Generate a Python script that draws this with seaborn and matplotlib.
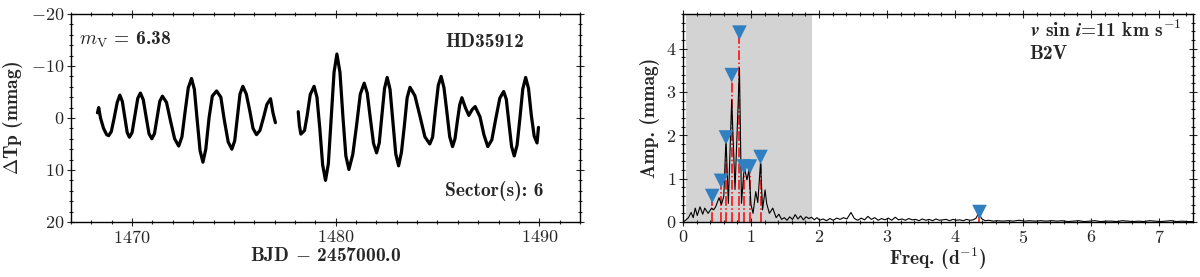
import matplotlib
matplotlib.use("Agg")
import matplotlib.pyplot as plt
import seaborn as sns
from matplotlib.ticker import MultipleLocator

# ---------------------------
# light curve: two TESS orbits
# ---------------------------
t_seg1 = [1468.30, 1468.36, 1468.45, 1468.60, 1468.75, 1468.85, 1468.98, 1469.12,
          1469.27, 1469.40, 1469.52, 1469.64, 1469.76, 1469.87, 1470.00, 1470.14,
          1470.28, 1470.41, 1470.55, 1470.69, 1470.83, 1470.97, 1471.10, 1471.23,
          1471.36, 1471.49, 1471.69, 1471.89, 1472.09, 1472.29, 1472.45, 1472.60,
          1472.76, 1472.92, 1473.06, 1473.20, 1473.34, 1473.48, 1473.62, 1473.78,
          1473.94, 1474.15, 1474.36, 1474.53, 1474.72, 1474.90, 1475.04, 1475.17,
          1475.30, 1475.44, 1475.61, 1475.78, 1475.94, 1476.11, 1476.28, 1476.45,
          1476.62, 1476.80, 1476.92, 1477.04]
dmag_seg1 = [-1.0, -2.0, 0.0, 2.0, 3.2, 3.4, 2.6, 0.0,
             -3.0, -4.4, -3.2, -0.2, 2.8, 3.7, 2.8, -0.5,
             -3.8, -4.8, -3.5, -0.2, 3.0, 4.0, 3.0, -0.1,
             -3.2, -4.2, -3.0, 0.6, 4.0, 5.4, 3.6, -1.1,
             -5.8, -7.6, -5.5, 0.5, 6.3, 8.5, 6.0, 0.0,
             -4.2, -5.2, -4.0, 0.4, 4.6, 6.0, 4.4, -0.1,
             -4.6, -6.1, -4.6, -1.4, 2.0, 3.2, 2.4, 0.0,
             -2.6, -3.7, -1.0, 0.9]

t_seg2 = [1478.16, 1478.22, 1478.29, 1478.47, 1478.60, 1478.75, 1478.94, 1479.08,
          1479.22, 1479.36, 1479.50, 1479.64, 1479.78, 1479.92, 1480.06, 1480.21,
          1480.36, 1480.50, 1480.65, 1480.84, 1481.02, 1481.21, 1481.40, 1481.55,
          1481.70, 1481.86, 1482.01, 1482.14, 1482.27, 1482.40, 1482.53, 1482.67,
          1482.81, 1482.95, 1483.09, 1483.23, 1483.37, 1483.51, 1483.65, 1483.89,
          1484.13, 1484.38, 1484.62, 1484.76, 1484.90, 1485.04, 1485.18, 1485.32,
          1485.46, 1485.60, 1485.74, 1485.86, 1485.97, 1486.09, 1486.20, 1486.37,
          1486.54, 1486.70, 1486.85, 1486.97, 1487.09, 1487.28, 1487.47, 1487.67,
          1487.86, 1488.06, 1488.25, 1488.38, 1488.51, 1488.64, 1488.77, 1488.91,
          1489.05, 1489.19, 1489.33, 1489.47, 1489.61, 1489.75, 1489.89, 1489.96]
dmag_seg2 = [-1.2, 1.5, 3.1, 2.4, -0.5, -4.5, -6.1, -4.0,
             2.0, 9.0, 12.0, 8.8, 0.0, -8.8, -12.3, -8.8,
             0.0, 7.3, 9.9, 7.0, 1.6, -4.6, -6.7, -4.8,
             0.0, 4.9, 6.7, 4.8, -0.5, -5.7, -7.8, -5.5,
             0.7, 6.9, 9.2, 6.6, 1.6, -3.9, -5.9, -4.3,
             -0.5, 3.6, 5.0, 3.7, -1.5, -6.3, -8.0, -5.8,
             -1.2, 3.6, 5.5, 4.0, 0.8, -2.5, -3.9, -2.0,
             -0.5, -1.6, -2.2, -1.2, -0.2, 3.2, 5.5, 4.2,
             0.2, -3.8, -5.1, -3.6, 1.0, 5.5, 7.3, 5.2,
             0.0, -5.6, -7.8, -5.7, -0.5, 3.5, 4.8, 1.8]

# ---------------------------
# amplitude spectrum
# ---------------------------
freq = [0.00, 0.03, 0.08, 0.12, 0.15, 0.18, 0.21, 0.25, 0.29, 0.32, 0.37, 0.42, 0.45,
        0.48, 0.53, 0.566, 0.60, 0.632, 0.667, 0.716, 0.765, 0.83, 0.86, 0.90, 0.94,
        0.97, 1.00, 1.03, 1.07, 1.10, 1.14, 1.17, 1.207, 1.23, 1.27, 1.32, 1.37, 1.41,
        1.45, 1.49, 1.53, 1.57, 1.61, 1.65, 1.69, 1.73, 1.77, 1.81, 1.85, 1.89, 1.93,
        1.97, 2.01, 2.06, 2.11, 2.16, 2.21, 2.26, 2.31, 2.36, 2.41, 2.47, 2.52, 2.57,
        2.62, 2.67, 2.72, 2.77, 2.82, 2.87, 2.92, 2.97, 3.02, 3.07, 3.12, 3.17, 3.22,
        3.27, 3.32, 3.37, 3.42, 3.47, 3.52, 3.57, 3.62, 3.67, 3.72, 3.77, 3.82, 3.87,
        3.92, 3.97, 4.02, 4.07, 4.12, 4.17, 4.22, 4.27, 4.31, 4.35, 4.39, 4.44, 4.50,
        4.56, 4.62, 4.70, 4.78, 4.86, 4.94, 5.02, 5.10, 5.18, 5.26, 5.34, 5.42, 5.50,
        5.58, 5.66, 5.74, 5.82, 5.90, 5.98, 6.06, 6.14, 6.22, 6.30, 6.38, 6.46, 6.54,
        6.62, 6.70, 6.78, 6.86, 6.94, 7.02, 7.10, 7.18, 7.26, 7.34, 7.42, 7.50]
amp = [0.00, 0.03, 0.10, 0.22, 0.10, 0.32, 0.15, 0.35, 0.18, 0.32, 0.20, 0.32, 0.28,
       0.35, 0.56, 0.40, 0.60, 1.93, 0.43, 2.82, 0.75, 3.55, 0.43, 1.28, 0.97,
       1.20, 0.40, 0.20, 0.70, 0.45, 1.37, 0.28, 0.74, 0.43, 0.20, 0.32, 0.10, 0.18,
       0.06, 0.10, 0.04, 0.12, 0.06, 0.17, 0.07, 0.14, 0.05, 0.12, 0.08, 0.11, 0.05,
       0.10, 0.04, 0.07, 0.03, 0.08, 0.04, 0.09, 0.06, 0.10, 0.07, 0.22, 0.08, 0.04,
       0.09, 0.05, 0.13, 0.06, 0.10, 0.04, 0.08, 0.05, 0.09, 0.04, 0.11, 0.05, 0.07,
       0.04, 0.08, 0.05, 0.06, 0.03, 0.07, 0.04, 0.06, 0.03, 0.07, 0.04, 0.05, 0.06,
       0.03, 0.06, 0.04, 0.05, 0.03, 0.06, 0.04, 0.05, 0.09, 0.21, 0.08, 0.03, 0.04,
       0.02, 0.03, 0.02, 0.03, 0.02, 0.04, 0.02, 0.03, 0.02, 0.03, 0.02, 0.03, 0.02,
       0.03, 0.01, 0.02, 0.03, 0.01, 0.02, 0.03, 0.01, 0.02, 0.02, 0.01, 0.03, 0.02,
       0.01, 0.02, 0.01, 0.03, 0.02, 0.01, 0.02, 0.03, 0.01, 0.02, 0.01, 0.01]

# extracted frequencies (triangles) and their amplitudes
peak_freq = [0.43, 0.56, 0.632, 0.716, 0.83, 0.897, 0.985, 1.14, 4.36]
peak_amp = [0.60, 0.95, 1.95, 3.39, 4.37, 1.28, 1.28, 1.50, 0.23]

shade_lo, shade_hi = 0.05, 1.9

# ---------------------------
# style
# ---------------------------
sns.set_style("ticks")
plt.rcParams["font.family"] = ["cmr10", "DejaVu Serif"]
plt.rcParams["mathtext.fontset"] = "cm"
plt.rcParams["axes.formatter.use_mathtext"] = True
plt.rcParams["axes.unicode_minus"] = True

fig = plt.figure(figsize=(12, 2.77), dpi=100)
ax1 = fig.add_axes([71 / 1200, 55 / 277, 509 / 1200, 208 / 277])
ax2 = fig.add_axes([683 / 1200, 55 / 277, 510 / 1200, 208 / 277])

bold = dict(fontname="cmb10", fontsize=14)

# ---------------------------
# left: light curve
# ---------------------------
sns.lineplot(x=t_seg1, y=dmag_seg1, ax=ax1, color="k", lw=2.3,
             estimator=None, sort=False)
sns.lineplot(x=t_seg2, y=dmag_seg2, ax=ax1, color="k", lw=2.3,
             estimator=None, sort=False)
ax1.set_xlim(1467, 1492)
ax1.set_ylim(20, -20)
ax1.xaxis.set_major_locator(MultipleLocator(10))
ax1.xaxis.set_minor_locator(MultipleLocator(1))
ax1.yaxis.set_major_locator(MultipleLocator(10))
ax1.yaxis.set_minor_locator(MultipleLocator(2))
ax1.set_xlabel("BJD $-$ 2457000.0", labelpad=1, **bold)
ax1.set_ylabel(r"$\Delta$Tp (mmag)", **bold)
ax1.text(0.015, 0.875, r"$m_{\rm V}$ = 6.38", transform=ax1.transAxes,
         ha="left", va="center", **bold)
ax1.text(0.735, 0.865, "HD35912", transform=ax1.transAxes,
         ha="left", va="center", **bold)
ax1.text(0.735, 0.15, "Sector(s): 6", transform=ax1.transAxes,
         ha="left", va="center", **bold)

# ---------------------------
# right: amplitude spectrum
# ---------------------------
ax2.axvspan(shade_lo, shade_hi, color="lightgray", lw=0, zorder=0)
for f, a in zip(peak_freq, peak_amp):
    ax2.plot([f, f], [0, a], color="red", ls="-.", lw=1.1, zorder=2)
sns.lineplot(x=freq, y=amp, ax=ax2, color="k", lw=0.8,
             estimator=None, sort=False, zorder=3)
sns.scatterplot(x=peak_freq, y=peak_amp, ax=ax2, marker="v", s=110,
                color="#2f7fc1", edgecolor="none", zorder=4)
ax2.set_xlim(0, 7.5)
ax2.set_ylim(0, 4.8)
ax2.xaxis.set_major_locator(MultipleLocator(1))
ax2.xaxis.set_minor_locator(MultipleLocator(0.2))
ax2.yaxis.set_major_locator(MultipleLocator(1))
ax2.yaxis.set_minor_locator(MultipleLocator(0.2))
ax2.set_xlabel("Freq. (d$^{-1}$)", labelpad=0, **bold)
ax2.set_ylabel("Amp. (mmag)", **bold)
ax2.text(0.68, 0.92, r"$\boldsymbol{v}$ sin $\boldsymbol{i}$=11 km s$^{\mathbf{-1}}$",
         transform=ax2.transAxes, ha="left", va="center", **bold)
ax2.text(0.68, 0.81, "B2V", transform=ax2.transAxes,
         ha="left", va="center", **bold)

for ax in (ax1, ax2):
    ax.tick_params(which="both", direction="inout", top=True, right=True,
                   labelsize=13, width=0.8, pad=2)
    ax.tick_params(which="major", length=6)
    ax.tick_params(which="minor", length=3.5)
    for sp in ax.spines.values():
        sp.set_linewidth(1.0)
        sp.set_color("k")

fig.savefig("out.png", dpi=100)
